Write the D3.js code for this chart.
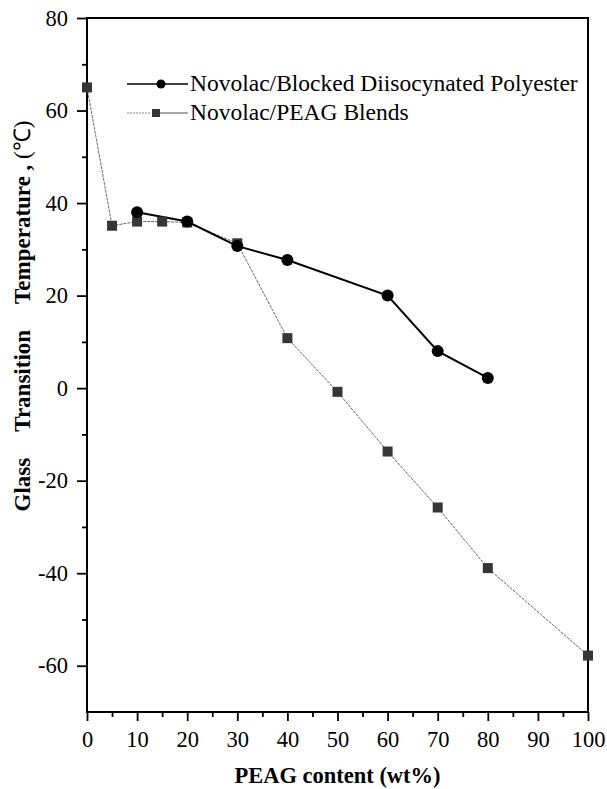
<!doctype html>
<html lang="en">
    <head>
        <meta charset="utf-8">
        <title>Glass transition vs PEAG content</title>
        <style>
            body { margin: 0; background: #fff; }
            text { font-family: "Liberation Serif", "Times New Roman", serif; fill: #000; }
        </style>
    </head>

    <body>
        <script src="https://cdnjs.cloudflare.com/ajax/libs/d3/7.8.5/d3.min.js"></script>
        <script>

            // data
            var seriesNames = ["Novolac/Blocked Diisocynated Polyester", "Novolac/PEAG Blends"];
            var blockedX = [10, 20, 30, 40, 60, 70, 80];
            var blockedY = [38, 36, 30.7, 27.7, 20, 8, 2.2];
            var peagX = [0, 5, 10, 15, 20, 30, 40, 50, 60, 70, 80, 100];
            var peagY = [65, 35.1, 36, 36, 35.8, 31.3, 10.8, -0.8, -13.7, -25.8, -38.9, -57.8];
            var xTicks = [0, 10, 20, 30, 40, 50, 60, 70, 80, 90, 100];
            var yTicks = [-60, -40, -20, 0, 20, 40, 60, 80];

            var w = 607;
            var h = 789;
            var plotL = 87, plotR = 588, plotT = 18, plotB = 712;
            var serif = "'Liberation Serif', 'Times New Roman', serif";

            var svg = d3.select("body")
                        .append("svg")
                        .attr("width", w)
                        .attr("height", h);

            var x = d3.scaleLinear().domain([0, 100]).range([plotL, plotR]);
            var y = d3.scaleLinear().domain([-70, 80]).range([plotB, plotT]);
            var plain = function(d) { return String(d); };   // hyphen minus, like the original

            // minor ticks
            svg.append("g")
               .attr("transform", "translate(0," + plotB + ")")
               .call(d3.axisBottom(x).tickValues(d3.range(5, 100, 10)).tickSize(5).tickFormat(""))
               .call(function(g) { g.select(".domain").remove(); });
            svg.append("g")
               .attr("transform", "translate(" + plotL + ",0)")
               .call(d3.axisLeft(y).tickValues(d3.range(-50, 80, 20)).tickSize(5).tickFormat(""))
               .call(function(g) { g.select(".domain").remove(); });

            // major ticks
            var xAxis = svg.append("g")
               .attr("transform", "translate(0," + plotB + ")")
               .call(d3.axisBottom(x).tickValues(xTicks).tickSize(9).tickFormat(plain));
            var yAxis = svg.append("g")
               .attr("transform", "translate(" + plotL + ",0)")
               .call(d3.axisLeft(y).tickValues(yTicks).tickSize(10).tickPadding(9).tickFormat(plain));

            [xAxis, yAxis].forEach(function(g) {
                g.select(".domain").remove();
                g.attr("font-family", null).attr("font-size", null);
                g.selectAll(".tick text")
                 .style("font-family", serif)
                 .style("font-size", "22.5px")
                 .attr("fill", "#000");
            });
            xAxis.selectAll(".tick text").attr("dy", null).attr("y", 35);
            svg.selectAll("g .tick line").attr("stroke", "#000").attr("stroke-width", 1.8);

            // frame
            svg.append("rect")
               .attr("x", plotL)
               .attr("y", plotT)
               .attr("width", plotR - plotL)
               .attr("height", plotB - plotT)
               .attr("fill", "none")
               .attr("stroke", "#000")
               .attr("stroke-width", 2);

            var peag = peagX.map(function(d, i) { return [d, peagY[i]]; });
            var blocked = blockedX.map(function(d, i) { return [d, blockedY[i]]; });
            var line = d3.line()
                         .x(function(d) { return x(d[0]); })
                         .y(function(d) { return y(d[1]); });

            // PEAG blends: thin grey line with squares
            svg.append("path")
               .attr("d", line(peag))
               .attr("fill", "none")
               .attr("stroke", "#666")
               .attr("stroke-width", 1)
               .attr("stroke-dasharray", "3,1");

            svg.append("path")
               .attr("d", line(blocked))
               .attr("fill", "none")
               .attr("stroke", "#000")
               .attr("stroke-width", 2);

            svg.selectAll("rect.sq")
               .data(peag)
               .enter()
               .append("rect")
               .attr("class", "sq")
               .attr("x", function(d) { return x(d[0]) - 5; })
               .attr("y", function(d) { return y(d[1]) - 5; })
               .attr("width", 10)
               .attr("height", 10)
               .attr("fill", "#363636");

            svg.selectAll("circle.pt")
               .data(blocked)
               .enter()
               .append("circle")
               .attr("class", "pt")
               .attr("cx", function(d) { return x(d[0]); })
               .attr("cy", function(d) { return y(d[1]); })
               .attr("r", 6)
               .attr("fill", "#000");

            // legend
            var lg = svg.append("g");
            lg.append("line").attr("x1", 127).attr("x2", 188).attr("y1", 84).attr("y2", 84)
              .attr("stroke", "#000").attr("stroke-width", 1.5);
            lg.append("circle").attr("cx", 161).attr("cy", 84).attr("r", 4.5).attr("fill", "#000");
            lg.append("text").attr("x", 190).attr("y", 91).style("font-size", "23.5px").text(seriesNames[0]);

            lg.append("line").attr("x1", 127).attr("x2", 151).attr("y1", 113).attr("y2", 113)
              .attr("stroke", "#888").attr("stroke-width", 1).attr("stroke-dasharray", "2,1");
            lg.append("line").attr("x1", 160).attr("x2", 188).attr("y1", 113).attr("y2", 113)
              .attr("stroke", "#555").attr("stroke-width", 1);
            lg.append("rect").attr("x", 152).attr("y", 109).attr("width", 8).attr("height", 8).attr("fill", "#363636");
            lg.append("text").attr("x", 190).attr("y", 120).style("font-size", "23.5px").text(seriesNames[1]);

            // axis titles
            svg.append("text")
               .attr("x", (plotL + plotR) / 2)
               .attr("y", 783)
               .attr("text-anchor", "middle")
               .style("font-size", "22.5px")
               .style("font-weight", "bold")
               .text("PEAG content (wt%)");

            var yt = svg.append("text")
               .attr("transform", "translate(30,316) rotate(-90)")
               .attr("text-anchor", "middle")
               .style("font-size", "23px")
               .style("font-weight", "bold");
            yt.append("tspan").text("Glass");
            yt.append("tspan").attr("dx", 26).text("Transition");
            yt.append("tspan").attr("dx", 26).text("Temperature ,");
            yt.append("tspan").style("font-weight", "normal").text(" (\u2103)");

        </script>
    </body>
</html>
